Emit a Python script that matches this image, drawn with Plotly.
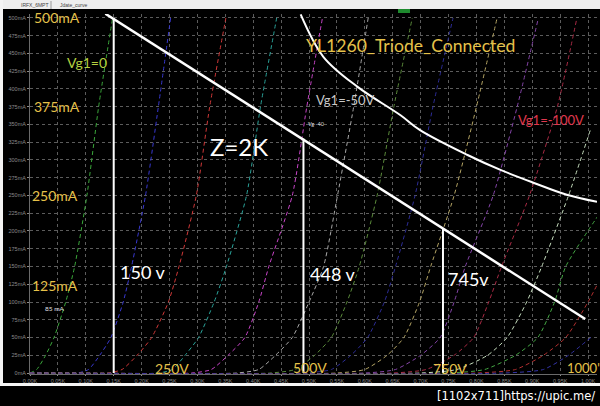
import plotly.graph_objects as go

W, H = 600, 406
L, R, T, B = 30, 3, 14, 32

def px(x):
    return (x - L) / (W - L - R)

def py(y):
    return (H - B - y) / (H - T - B)

# ---------------- data (plate voltage V, plate current mA) ----------------
grid_voltages = [0, -10, -20, -30, -40, -50, -60, -70, -80, -90, -100, -110, -120, -130, -140]
curve_colors = ["#3aa63a", "#3838d0", "#d03838", "#2aa39a", "#c844c8", "#a8a8a8",
                "#5a8a3a", "#2c2c96", "#b4a464", "#8444a8", "#a82a44", "#c8e0c0",
                "#44a844", "#b43030", "#3434a8"]

ia_std = [0, 5, 25, 50, 100, 150, 250, 375, 500]
va_g0 = [0, 12, 28, 43, 64, 80, 102, 123, 148]
va_g10 = [85, 105, 125, 145, 167, 182, 207, 230, 252]
va_g20 = [140, 165, 192, 218, 248, 267, 298, 322, 351]
va_g30 = [230, 255, 278, 302, 330, 352, 388, 413, 442]
va_g40 = [290, 325, 355, 385, 410, 428, 470, 496, 524]
va_g50 = [370, 410, 440, 470, 500, 526, 551, 580, 606]
va_g60 = [430, 475, 510, 540, 568, 590, 622, 652, 685]
va_g70 = [490, 540, 575, 605, 635, 655, 690, 722, 758]
va_g80 = [550, 600, 640, 670, 698, 718, 760, 800, 837]
va_g90 = [600, 655, 700, 735, 760, 780, 830, 873, 911]
va_g100 = [650, 710, 760, 795, 822, 845, 895, 945, 980]
ia_g110 = [0, 5, 25, 50, 100, 150, 250, 342]
va_g110 = [700, 765, 820, 855, 890, 917, 965, 1004]
ia_g120 = [0, 5, 25, 50, 100, 150, 225]
va_g120 = [750, 815, 870, 910, 940, 960, 1021]
ia_g130 = [0, 5, 25, 50, 100, 130]
va_g130 = [800, 870, 920, 960, 1000, 1020]
ia_g140 = [0, 5, 25, 50]
va_g140 = [850, 920, 965, 1005]

curves_v = [va_g0, va_g10, va_g20, va_g30, va_g40, va_g50, va_g60, va_g70, va_g80,
            va_g90, va_g100, va_g110, va_g120, va_g130, va_g140]
curves_i = [ia_std] * 11 + [ia_g110, ia_g120, ia_g130, ia_g140]

# load line Z = 2K
load_v = [135, 995]
load_i = [506, 76]
# 240 W dissipation curve
pd_v = [485, 526, 587, 664, 699, 784, 843, 902, 962, 1016]
pd_i = [505, 445, 403, 363, 342, 307, 286, 268, 251, 241]
# operating points on the load line
op_v = [150, 490, 740]
op_i = [500, 330, 203]

x_ticks = list(range(0, 1001, 50))
x_ticktext = ["%.2fK" % (v / 1000) for v in x_ticks]
y_ticks = list(range(0, 501, 25))
y_ticktext = ["%dmA" % v for v in y_ticks]

fig = go.Figure()

for vg, vs, iss, col in zip(grid_voltages, curves_v, curves_i, curve_colors):
    xs = [0] + vs if vs[0] > 0 else vs
    ys = [0] + iss if vs[0] > 0 else iss
    fig.add_trace(go.Scatter(x=xs, y=ys, mode="lines", name="Vg1=%d" % vg, hoverinfo="skip",
                             line=dict(color=col, width=1, dash="4px,3px", shape="spline", smoothing=0.6)))

fig.add_trace(go.Scatter(x=load_v, y=load_i, mode="lines", hoverinfo="skip",
                         line=dict(color="white", width=2.5)))
fig.add_trace(go.Scatter(x=pd_v, y=pd_i, mode="lines", hoverinfo="skip",
                         line=dict(color="white", width=2, shape="spline")))
for v, i in zip(op_v, op_i):
    fig.add_trace(go.Scatter(x=[v, v], y=[0, i], mode="lines", hoverinfo="skip",
                             line=dict(color="white", width=2)))

tickfont = dict(family="Liberation Sans", size=5.5, color="#8a8a8a")
fig.update_xaxes(range=[0, 1016], tickvals=x_ticks, ticktext=x_ticktext,
                 showgrid=True, gridcolor="#5c5c5c", griddash="dot", gridwidth=1,
                 zeroline=False, showline=True, linecolor="#6a6a6a",
                 ticks="outside", ticklen=1, tickcolor="#8a8a8a", tickfont=tickfont)
fig.update_yaxes(range=[-1.4, 505.6], tickvals=y_ticks, ticktext=y_ticktext,
                 showgrid=True, gridcolor="#5c5c5c", griddash="dot", gridwidth=1,
                 zeroline=False, showline=True, linecolor="#6a6a6a",
                 ticks="outside", ticklen=2, tickcolor="#8a8a8a", tickfont=tickfont)

gold = "#e6c24a"
ann = [
    ("500mA", 32, 18, 14, gold),
    ("375mA", 32, 107, 14, gold),
    ("250mA", 30, 195, 14, gold),
    ("125mA", 30, 285, 14, gold),
    ("Vg1=0", 65, 63, 14, "#b4d040"),
    ("YL1260_Triode_Connected", 304, 45, 17.6, gold),
    ("Vg1=-50V", 314, 100, 13, "#c8c8c8"),
    ("Vg -40", 306, 124, 5.5, "#dddddd"),
    ("Vg1=-100V", 516, 120, 13, "#e0384e"),
    ("Z=2K", 208, 146, 24, "white"),
    ("150 v", 118, 272, 18, "white"),
    ("448 v", 308, 274, 18, "white"),
    ("745v", 446, 279, 18, "white"),
    ("85 mA", 43, 308, 6.5, "#e0e0e0"),
    ("250V", 153, 368, 14, gold),
    ("500V", 291, 367, 14, gold),
    ("750V", 431, 368, 14, gold),
    ("1000'", 565, 368, 13, gold),
]
for text, x, y, size, color in ann:
    fig.add_annotation(text=text, x=px(x), y=py(y), xref="paper", yref="paper",
                       xanchor="left", yanchor="middle", showarrow=False,
                       font=dict(family="Lato", size=size, color=color))

# window chrome
fig.add_shape(type="rect", xref="paper", yref="paper", x0=px(0), x1=px(600), y0=py(9), y1=py(0),
              fillcolor="#eeeeee", line=dict(width=0), layer="above")
fig.add_shape(type="rect", xref="paper", yref="paper", x0=px(0), x1=px(3), y0=py(385), y1=py(0),
              fillcolor="#f4f4f4", line=dict(width=0), layer="above")
fig.add_shape(type="rect", xref="paper", yref="paper", x0=px(0), x1=px(600), y0=py(386), y1=py(383),
              fillcolor="#f4f4f4", line=dict(width=0), layer="above")
fig.add_shape(type="rect", xref="paper", yref="paper", x0=px(398), x1=px(410), y0=py(13), y1=py(9),
              fillcolor="#1e8a2e", line=dict(width=0), layer="above")
fig.add_shape(type="line", xref="paper", yref="paper", x0=px(51), x1=px(51), y0=py(9), y1=py(1),
              line=dict(color="#9a9a9a", width=1), layer="above")
for text, x in [("IRFX_6MPT", 19), ("Jdate_curve", 58)]:
    fig.add_annotation(text=text, x=px(x), y=py(5), xref="paper", yref="paper",
                       xanchor="left", yanchor="middle", showarrow=False,
                       font=dict(family="Liberation Sans", size=5, color="#444444"))
fig.add_annotation(text="[1102x711]https://upic.me/", x=px(597), y=py(396), xref="paper", yref="paper",
                   xanchor="right", yanchor="middle", showarrow=False,
                   font=dict(family="DejaVu Sans", size=11.5, color="white"))

fig.update_layout(width=W, height=H, margin=dict(l=L, r=R, t=T, b=B),
                  paper_bgcolor="black", plot_bgcolor="black", showlegend=False)

fig.write_html("out.html", config={"displayModeBar": False},
               post_script="document.body.style.margin='0';document.body.style.overflow='hidden';")
